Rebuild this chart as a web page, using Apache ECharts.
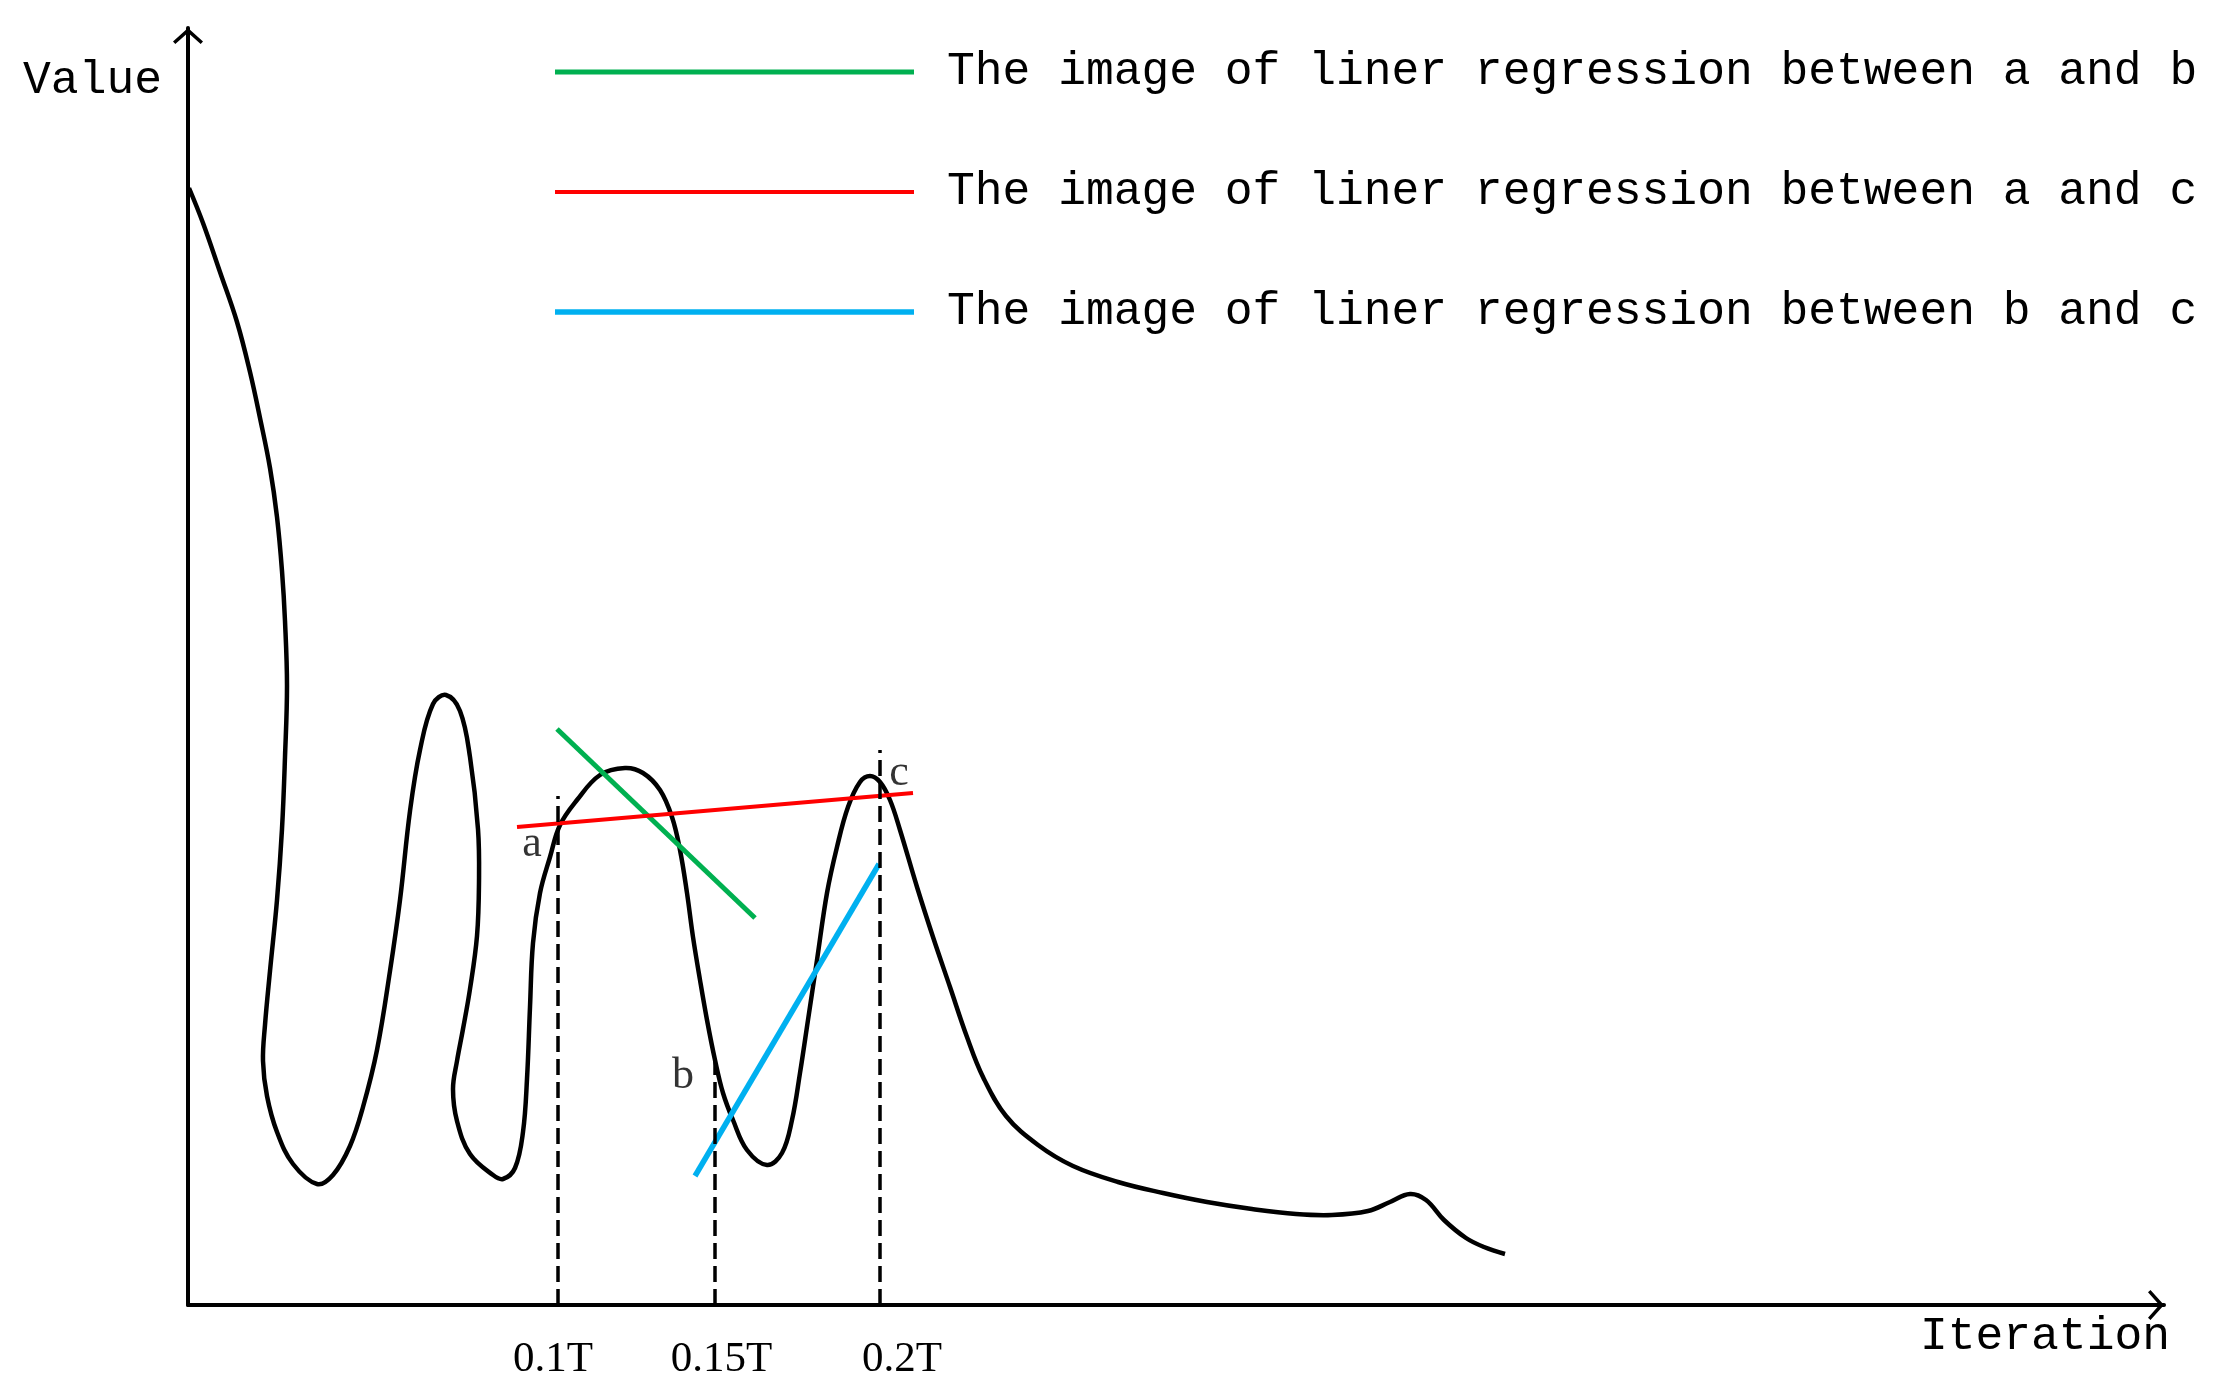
<!DOCTYPE html>
<html>
<head>
<meta charset="utf-8">
<script src="https://cdn.jsdelivr.net/npm/echarts@6/dist/echarts.min.js"></script>
<style>
html, body { margin: 0; padding: 0; background: #ffffff; }
#chart { width: 2219px; height: 1396px; }
</style>
</head>
<body>
<div id="chart"></div>
<script>
// ---- data (abstract units) ----
const curveX = [0.1,1.5,3.2,4.9,6.2,7.2,8.2,8.9,9.4,9.7,
  9.9,9.7,9.4,8.9,8.2,7.7,7.5,7.9,8.9,10.5,
  12.9,14.5,16.2,17.5,18.9,20.2,21.2,22.2,23.2,24.5,
  25.8,27.2,28.2,29.0,29.1,28.9,28.2,27.5,26.9,26.5,
  26.9,28.2,30.5,31.5,32.7,33.5,33.9,34.2,34.5,35.2,
  36.2,37.2,38.9,41.2,43.7,45.5,47.2,48.4,49.2,49.9,
  50.5,51.2,51.9,52.7,53.5,54.5,55.9,57.9,59.4,60.4,
  61.2,62.0,62.9,63.9,64.9,66.0,67.2,68.2,69.2,70.2,
  71.2,72.9,74.5,76.2,77.9,79.5,81.8,85.0,88.5,93.0,
  97.5,101.9,106.4,110.8,114.4,118.0,120.2,122.2,123.8,125.6,
  127.8,129.6,131.7];
const curveY = [111.7,108.2,103.3,98.3,93.3,88.7,83.7,78.8,73.4,68.4,
  61.9,54.8,47.6,40.5,33.4,28.0,24.4,20.9,17.3,14.1,
  12.1,13.0,15.9,19.8,25.5,33.4,40.5,49.4,55.5,60.1,
  61.0,59.4,54.8,47.6,42.3,36.9,31.6,27.6,24.4,21.6,
  18.4,15.1,13.0,12.6,13.7,17.3,22.6,29.8,36.2,41.2,
  44.8,48.0,50.5,53.0,53.7,53.2,51.5,48.8,45.5,41.2,
  36.8,32.5,28.5,24.5,21.2,18.5,15.5,14.0,15.2,18.5,
  23.2,28.5,34.5,41.2,45.8,49.8,52.3,52.9,52.3,50.5,
  47.5,41.8,36.8,31.8,26.8,22.8,18.9,16.0,13.9,12.3,
  11.2,10.3,9.6,9.1,9.0,9.4,10.3,11.1,10.5,8.5,
  6.7,5.8,5.1];

const regNames = [
  'The image of liner regression between a and b',
  'The image of liner regression between a and c',
  'The image of liner regression between b and c'
];
const abX = [36.9, 56.7];
const abY = [57.6, 38.7];
const acX = [32.9, 72.5];
const acY = [47.8, 51.2];
const bcX = [50.7, 69.1];
const bcY = [12.9, 44.1];

const guideX = [37.0, 52.7, 69.2];
const guideTop = [50.9, 25.0, 55.5];

const tickPos = [36.5, 53.35, 71.4];
const tickLabels = ['0.1T', '0.15T', '0.2T'];

const pointNames = ['a', 'b', 'c'];
const pointX = [34.4, 49.5, 71.1];
const pointY = [46.1, 22.9, 53.2];

const xMax = 197.6;
const yMax = 127.7;

// ---- build ----
const zip = (xs, ys) => xs.map((x, i) => [x, ys[i]]);
const arrowPath = 'path://M15,0 L30,13.5 L27.7,16 L15,4.7 L2.3,16 L0,13.5 Z';
const regColors = ['#00B050', '#FF0000', '#00B0F0'];
const regWidths = [5, 4, 5.5];
const regData = [zip(abX, abY), zip(acX, acY), zip(bcX, bcY)];
const legendIcons = regWidths.map(w => 'path://M0,0 H359 V' + w + ' H0 Z');
const monoFont = 'Liberation Mono';
const monoSize = 46.3;

const chart = echarts.init(document.getElementById('chart'), null, { renderer: 'canvas' });

const axisLineStyle = { color: '#000', width: 4 };

const option = {
  animation: false,
  backgroundColor: '#ffffff',
  grid: { left: 188, right: 55, top: 28, bottom: 91, containLabel: false, outerBoundsMode: 'none' },
  legend: {
    orient: 'vertical',
    left: 555,
    top: 47,
    padding: 0,
    itemGap: 70,
    itemWidth: 359,
    itemHeight: 50,
    selectedMode: false,
    textStyle: {
      fontFamily: monoFont,
      fontSize: monoSize,
      color: '#000',
      lineHeight: 50,
      padding: [0, 0, 0, 28]
    },
    data: regNames.map((n, i) => ({ name: n, icon: legendIcons[i] }))
  },
  xAxis: {
    type: 'value',
    min: 0,
    max: xMax,
    name: 'Iteration',
    nameLocation: 'end',
    nameGap: 6,
    nameTextStyle: {
      fontFamily: monoFont,
      fontSize: monoSize,
      color: '#000',
      align: 'right',
      verticalAlign: 'top',
      padding: [9, 0, 0, 0]
    },
    axisLine: {
      show: true,
      onZero: false,
      symbol: ['none', arrowPath],
      symbolSize: [30, 16],
      symbolOffset: [0, -8],
      lineStyle: axisLineStyle
    },
    axisTick: { show: false },
    splitLine: { show: false },
    axisLabel: {
      show: true,
      customValues: tickPos,
      margin: 33,
      color: '#000',
      fontFamily: 'Liberation Serif',
      fontSize: 43,
      formatter: function (v) {
        const i = tickPos.findIndex(p => Math.abs(p - v) < 1e-6);
        return i >= 0 ? tickLabels[i] : '';
      }
    }
  },
  yAxis: {
    type: 'value',
    min: 0,
    max: yMax,
    name: 'Value',
    nameLocation: 'end',
    nameGap: -53,
    nameTextStyle: {
      fontFamily: monoFont,
      fontSize: monoSize,
      color: '#000',
      align: 'right',
      verticalAlign: 'middle',
      padding: [0, 26, 0, 0]
    },
    axisLine: {
      show: true,
      onZero: false,
      symbol: ['none', arrowPath],
      symbolSize: [30, 16],
      symbolOffset: [0, -8],
      lineStyle: axisLineStyle
    },
    axisTick: { show: false },
    splitLine: { show: false },
    axisLabel: { show: false }
  },
  series: [
    {
      name: 'curve',
      type: 'custom',
      data: zip(curveX, curveY),
      encode: { x: 0, y: 1 },
      silent: true,
      clip: false,
      z: 2,
      renderItem: function (params, api) {
        if (params.dataIndex !== 0) return null;
        const pts = curveX.map((x, i) => api.coord([x, curveY[i]]));
        return {
          type: 'polyline',
          shape: { points: pts, smooth: 0.38 },
          style: { stroke: '#000', lineWidth: 4.5, fill: null, lineJoin: 'round' }
        };
      }
    },
    {
      name: 'guides',
      type: 'line',
      data: [],
      silent: true,
      z: 1,
      markLine: {
        silent: true,
        animation: false,
        symbol: ['none', 'none'],
        label: { show: false },
        lineStyle: { color: '#000', width: 3.5, type: [16, 7] },
        data: guideX.map((x, i) => [{ coord: [x, 0] }, { coord: [x, guideTop[i]] }])
      }
    },
    ...regNames.map((n, i) => ({
      name: n,
      type: 'line',
      data: regData[i],
      symbol: 'none',
      showSymbol: false,
      silent: true,
      z: 3,
      lineStyle: { color: regColors[i], width: regWidths[i] },
      itemStyle: { color: regColors[i] }
    })),
    {
      name: 'points',
      type: 'scatter',
      silent: true,
      symbolSize: 0,
      z: 4,
      data: pointNames.map((n, i) => ({ name: n, value: [pointX[i], pointY[i]] })),
      label: {
        show: true,
        position: 'inside',
        formatter: '{b}',
        color: '#000',
        fontFamily: 'Liberation Serif',
        fontSize: 44
      }
    }
  ]
};

chart.setOption(option);
</script>
</body>
</html>
